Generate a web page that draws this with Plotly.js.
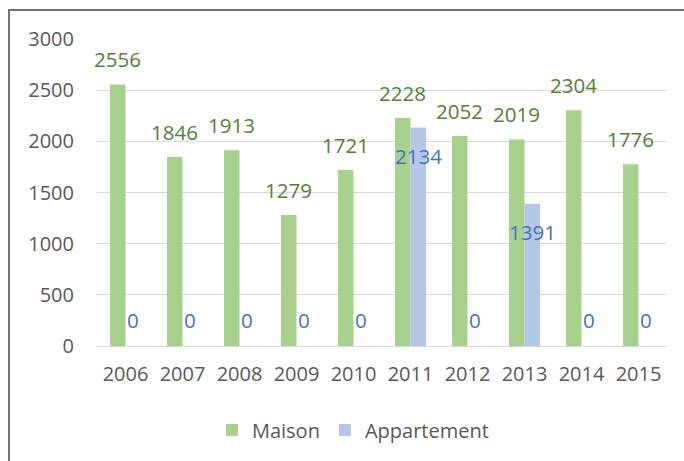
<!DOCTYPE html>
<html>
<head>
<meta charset="utf-8">
<script src="https://cdn.plot.ly/plotly-3.0.1.min.js"></script>
<style>html,body{margin:0;padding:0;background:#fff}#chart{width:684px;height:461px}</style>
</head>
<body>
<div id="chart"></div>
<script>
const years = ["2006","2007","2008","2009","2010","2011","2012","2013","2014","2015"];
const maison = [2556,1846,1913,1279,1721,2228,2052,2019,2304,1776];
const appartement = [0,0,0,0,0,2134,0,1391,0,0];
const seriesNames = ["Maison","Appartement"];
const yTicks = [0,500,1000,1500,2000,2500,3000];

const green = "#a9d18e", blue = "#b4c7e7";
const greenText = "#548235", blueText = "#4472c4";
const font = "Open Sans, Liberation Sans, sans-serif";
const bargap = 0.456;
const off = (1 - bargap) / 4;

const annotations = [];
years.forEach((y, i) => {
  annotations.push({x: i - off, y: maison[i], xref: "x", yref: "y", text: String(maison[i]),
    showarrow: false, yanchor: "middle", xanchor: "center", yshift: 25,
    font: {family: font, size: 20.5, color: greenText}});
  annotations.push({x: i + off, y: appartement[i], xref: "x", yref: "y", text: String(appartement[i]),
    showarrow: false, yanchor: "middle", xanchor: "center", yshift: appartement[i] > 0 ? -28 : 26,
    font: {family: font, size: 20.5, color: blueText}});
});

const traces = [
  {type: "bar", name: seriesNames[0], x: years.map((_, i) => i), y: maison, marker: {color: green}, hoverinfo: "none"},
  {type: "bar", name: seriesNames[1], x: years.map((_, i) => i), y: appartement, marker: {color: blue}, hoverinfo: "none"}
];

const layout = {
  width: 684, height: 461,
  margin: {l: 97, r: 17, t: 39, b: 115},
  paper_bgcolor: "#fff", plot_bgcolor: "#fff",
  barmode: "group", bargap: bargap, bargroupgap: 0,
  font: {family: font, size: 20, color: "#595959"},
  xaxis: {
    tickmode: "array", tickvals: years.map((_, i) => i), ticktext: years,
    range: [-0.5, years.length - 0.5],
    showline: true, linecolor: "#d9d9d9", linewidth: 1,
    showgrid: false, zeroline: false, ticks: "", ticklabelstandoff: 10,
    tickfont: {family: font, size: 20, color: "#595959"}
  },
  yaxis: {
    range: [0, 3000], tickmode: "array", tickvals: yTicks,
    showgrid: true, gridcolor: "#d9d9d9", gridwidth: 1,
    zeroline: true, zerolinecolor: "#d9d9d9", zerolinewidth: 1,
    showline: false, ticks: "", ticklabelstandoff: 22,
    tickfont: {family: font, size: 20, color: "#595959"}
  },
  legend: {orientation: "h", x: 0.449, xanchor: "center", y: -0.274, yanchor: "middle",
    font: {family: font, size: 20, color: "#595959"}, itemclick: false, itemdoubleclick: false},
  annotations: annotations,
  shapes: [{type: "path", xref: "paper", yref: "paper",
    path: "M -0.1544,-0.5 L -0.1544,1.0945 L 1.2,1.0945",
    line: {color: "#737373", width: 2}}]
};

Plotly.newPlot("chart", traces, layout, {staticPlot: true, displayModeBar: false});
</script>
</body>
</html>
